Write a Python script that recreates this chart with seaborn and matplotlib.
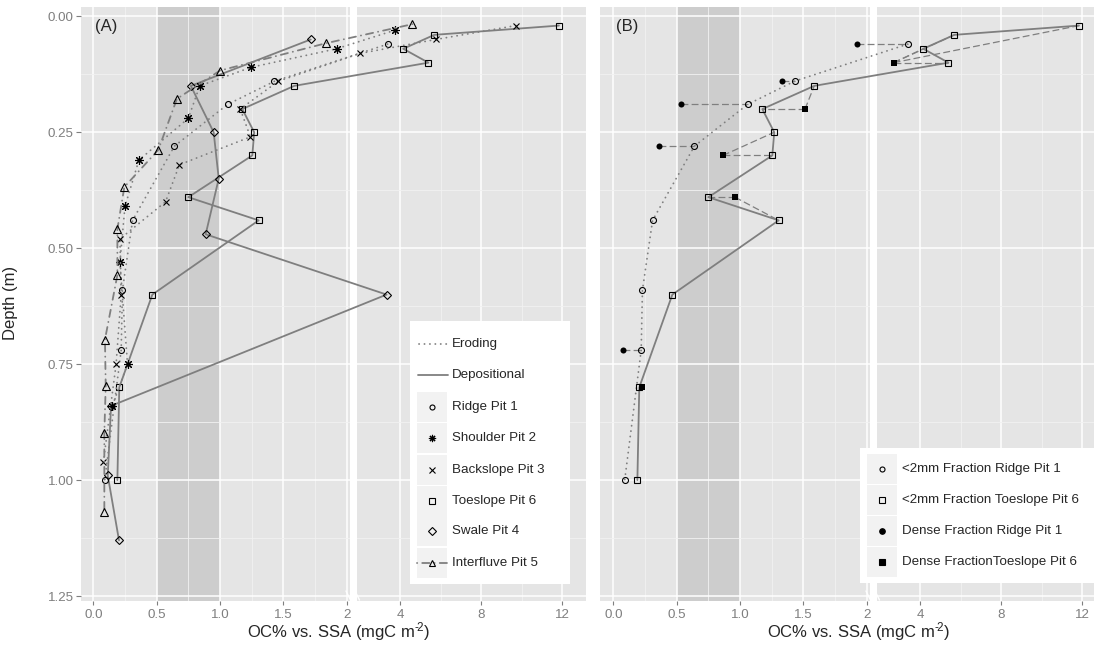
import numpy as np
import pandas as pd
import matplotlib
matplotlib.use("Agg")
import matplotlib.pyplot as plt
import seaborn as sns
from matplotlib.patches import Rectangle

# ---------------- data: organic carbon per unit surface area vs depth ----------------
ridge_depth = [0.06, 0.14, 0.19, 0.28, 0.44, 0.59, 0.72, 1.00]
ridge_oc = [3.39, 1.43, 1.06, 0.64, 0.31, 0.23, 0.22, 0.09]

shoulder_depth = [0.03, 0.07, 0.11, 0.15, 0.22, 0.31, 0.41, 0.53, 0.75, 0.84]
shoulder_oc = [3.75, 1.92, 1.245, 0.84, 0.75, 0.36, 0.25, 0.21, 0.27, 0.15]

backslope_depth = [0.02, 0.05, 0.08, 0.14, 0.20, 0.26, 0.32, 0.40, 0.48, 0.60, 0.75, 0.96]
backslope_oc = [9.71, 5.76, 2.03, 1.46, 1.16, 1.24, 0.68, 0.57, 0.21, 0.22, 0.18, 0.08]

toeslope_depth = [0.02, 0.04, 0.07, 0.10, 0.15, 0.20, 0.25, 0.30, 0.39, 0.44, 0.60, 0.80, 1.00]
toeslope_oc = [11.83, 5.69, 4.16, 5.40, 1.586, 1.176, 1.27, 1.255, 0.75, 1.305, 0.466, 0.205, 0.19]

swale_depth = [0.05, 0.15, 0.25, 0.35, 0.47, 0.60, 0.84, 0.99, 1.13]
swale_oc = [1.716, 0.77, 0.95, 0.99, 0.887, 3.34, 0.14, 0.114, 0.203]

interfluve_depth = [0.017, 0.058, 0.117, 0.178, 0.288, 0.368, 0.459, 0.558, 0.697, 0.797, 0.898, 1.069]
interfluve_oc = [4.61, 1.837, 1.0, 0.66, 0.513, 0.245, 0.19, 0.19, 0.092, 0.098, 0.087, 0.087]

# dense (heavy) fractions and the <2mm samples each one spans
dense_ridge_depth = [0.06, 0.14, 0.19, 0.28, 0.72]
dense_ridge_oc = [1.926, 1.329, 0.533, 0.36, 0.074]
dense_ridge_links = [[0], [1], [2], [3], [6]]

dense_toe_depth = [0.10, 0.20, 0.30, 0.39, 0.80]
dense_toe_oc = [2.70, 1.513, 0.865, 0.96, 0.224]
dense_toe_links = [[0, 1, 2, 3], [4, 5], [6, 7], [8, 9], [11]]

x_major = [0, 0.5, 1.0, 1.5, 2, 4, 8, 12]
x_major_labels = ["0.0", "0.5", "1.0", "1.5", "2", "4", "8", "12"]
x_minor = [0.25, 0.75, 1.25, 1.75, 6, 10]
y_major = [0.0, 0.25, 0.50, 0.75, 1.00, 1.25]
y_major_labels = ["0.00", "0.25", "0.50", "0.75", "1.00", "1.25"]
y_minor = [0.125, 0.375, 0.625, 0.875, 1.125]

# ---------------- style ----------------
sns.set_theme(style="darkgrid")
plt.rcParams["font.family"] = ["Liberation Sans", "DejaVu Sans"]
plt.rcParams["mathtext.default"] = "regular"

BG = "#E5E5E5"
BAND = "#CDCDCD"
GREY = "#7F7F7F"
MINOR = "#F2F2F2"

W, H = 1094, 649
fig = plt.figure(figsize=(W / 100, H / 100), dpi=100)
fig.patch.set_facecolor("white")

# broken x axis: linear 0-2, then a compressed linear segment above 2
X_BREAK = 2.026
U4 = 2.4207
K = 0.1602
U_GAP_END = 2.079


def fwd(x):
    x = np.asarray(x, dtype=float)
    return np.where(x <= X_BREAK, x, U4 + K * (x - 4.0))


def inv(u):
    u = np.asarray(u, dtype=float)
    hi = 4.0 + (u - U4) / K
    return np.where(u <= X_BREAK, u, np.maximum(hi, X_BREAK))


def px_axes(left, right, top=6.7, bottom=600.7):
    return fig.add_axes([left / W, 1 - bottom / H, (right - left) / W, (bottom - top) / H])


axA = px_axes(80.7, 586.0)
axB = px_axes(600.0, 1094.0)

DOT = (0.1, 2.9)
DOTDASH = (0.1, 2.8, 4.0, 2.8)
LW = 1.3


def profile(ax, oc, depth, marker, ms, dashes=None, mfc="none"):
    sns.lineplot(x=oc, y=depth, sort=False, estimator=None, ax=ax, color=GREY,
                 linewidth=LW, marker=marker, markersize=ms, markerfacecolor=mfc,
                 markeredgecolor="black", markeredgewidth=0.8, legend=False)
    line = ax.lines[-1]
    if dashes is not None:
        line.set_dashes(dashes)
    line.set_dash_capstyle("round")
    return line


ASTER = (8, 2, 0)

# ---- panel A ----
profile(axA, toeslope_oc, toeslope_depth, "s", 4.4)
profile(axA, swale_oc, swale_depth, "D", 4.3)
profile(axA, ridge_oc, ridge_depth, "o", 4.3, DOT)
profile(axA, shoulder_oc, shoulder_depth, ASTER, 6.4, DOT)
profile(axA, backslope_oc, backslope_depth, "x", 4.8, DOT)
profile(axA, interfluve_oc, interfluve_depth, "^", 5.6, DOTDASH)

# ---- panel B ----
link_rows = []
lid = 0
for i, idx in enumerate(dense_ridge_links):
    for j in idx:
        link_rows += [(lid, dense_ridge_oc[i], dense_ridge_depth[i]), (lid, ridge_oc[j], ridge_depth[j])]
        lid += 1
for i, idx in enumerate(dense_toe_links):
    for j in idx:
        link_rows += [(lid, dense_toe_oc[i], dense_toe_depth[i]), (lid, toeslope_oc[j], toeslope_depth[j])]
        lid += 1
links_df = pd.DataFrame(link_rows, columns=["link", "oc", "depth"])
sns.lineplot(data=links_df, x="oc", y="depth", units="link", estimator=None, sort=False,
             ax=axB, color=GREY, linewidth=0.9, legend=False)
for ln in axB.lines:
    ln.set_dashes((5.5, 2.6))

profile(axB, ridge_oc, ridge_depth, "o", 4.3, DOT)
profile(axB, toeslope_oc, toeslope_depth, "s", 4.4)
sns.scatterplot(x=dense_ridge_oc, y=dense_ridge_depth, ax=axB, color="black", marker="o",
                s=19, linewidth=0, legend=False, zorder=4)
sns.scatterplot(x=dense_toe_oc, y=dense_toe_depth, ax=axB, color="black", marker="s",
                s=19, linewidth=0, legend=False, zorder=4)

# ---- shared axis dressing ----
for ax, xlim, show_y in ((axA, (-0.0995, 13.165), True), (axB, (-0.105, 12.57), False)):
    ax.set_xscale("function", functions=(fwd, inv))
    ax.set_xlim(*xlim)
    ax.set_ylim(1.260, -0.0207)
    ax.set_facecolor(BG)
    ax.set_axisbelow(True)
    for s in ax.spines.values():
        s.set_visible(False)
    ax.axvspan(0.5, 1.0, color=BAND, lw=0, zorder=0.3)
    ax.set_xticks(x_major)
    ax.set_xticklabels(x_major_labels)
    ax.set_xticks(x_minor, minor=True)
    ax.set_yticks(y_major)
    ax.set_yticks(y_minor, minor=True)
    if show_y:
        ax.set_yticklabels(y_major_labels)
    else:
        ax.set_yticklabels([])
    ax.grid(which="major", color="white", linewidth=1.1)
    ax.grid(which="minor", color=MINOR, linewidth=0.6)
    ax.tick_params(which="major", axis="x", length=3.2, width=0.8, color=GREY,
                   labelcolor=GREY, labelsize=9.6, pad=2.6, bottom=True)
    ax.tick_params(which="major", axis="y", length=3.6 if show_y else 0, width=0.8,
                   color=GREY, labelcolor=GREY, labelsize=9.6, pad=1.5, left=show_y)
    ax.tick_params(which="minor", length=0)
    ax.set_xlabel("")
    ax.set_ylabel("")
    # white gap marking the axis break
    ulo, uhi = fwd(xlim[0]), fwd(xlim[1])
    f0 = (X_BREAK - ulo) / (uhi - ulo)
    f1 = (U_GAP_END - ulo) / (uhi - ulo)
    ax.add_patch(Rectangle((f0, 0), f1 - f0, 1, transform=ax.transAxes,
                           facecolor="white", edgecolor="none", zorder=0.6))

# ---------------- overlay in pixel coordinates: labels and legends ----------------
ov = fig.add_axes([0, 0, 1, 1], zorder=10)
ov.set_xlim(0, W)
ov.set_ylim(H, 0)
ov.axis("off")
ov.patch.set_alpha(0)

ov.text(95, 26.7, "(A)", fontsize=12, ha="left", va="center")
ov.text(616, 26.7, "(B)", fontsize=12, ha="left", va="center")
xtitle = "OC% vs. SSA (mgC m$^{\u2010\\!2}$)"
ov.text(338, 632, xtitle, fontsize=12, ha="center", va="center")
ov.text(858, 632, xtitle, fontsize=12, ha="center", va="center")
ov.text(11, 303, "Depth (m)", fontsize=12, ha="center", va="center", rotation=90)

# small break marks on the bottom edge
for off in (0, 520):
    for x0 in (346, 355):
        ov.plot([off + x0, off + x0 + 4.5], [591, 600], color="white", lw=1.0)


def key_box(x, y, w=30, h=30):
    ov.add_patch(Rectangle((x, y - h / 2), w, h, facecolor=MINOR, edgecolor="none"))


def key_marker(x, y, marker, ms, mfc="none"):
    ov.plot([x], [y], marker=marker, ms=ms, mfc=mfc, mec="black", mew=0.8, ls="none")


# legend A
ov.add_patch(Rectangle((410, 320.7), 160, 263.6, facecolor="white", edgecolor="none"))
ln, = ov.plot([419, 448], [344.3, 344.3], color=GREY, lw=LW)
ln.set_dashes(DOT)
ln.set_dash_capstyle("round")
ov.plot([418, 448], [375, 375], color=GREY, lw=LW)
ov.text(451.7, 344.3, "Eroding", fontsize=9.6, va="center", ha="left")
ov.text(451.7, 375, "Depositional", fontsize=9.6, va="center", ha="left")
legA = [("Ridge Pit 1", "o", 3.6), ("Shoulder Pit 2", ASTER, 5.2), ("Backslope Pit 3", "x", 4.2),
        ("Toeslope Pit 6", "s", 3.8), ("Swale Pit 4", "D", 3.8), ("Interfluve Pit 5", "^", 5.0)]
rowsA = [406.7, 438.3, 469.7, 500.9, 531.3, 563]
for (lab, mk, ms), y in zip(legA, rowsA):
    key_box(416.7, y)
    if lab.startswith("Interfluve"):
        l2, = ov.plot([417, 447], [y, y], color=GREY, lw=LW)
        l2.set_dashes(DOTDASH)
        l2.set_dash_capstyle("round")
    key_marker(431.7, y, mk, ms)
    ov.text(451.7, y, lab, fontsize=9.6, va="center", ha="left")

# legend B
ov.add_patch(Rectangle((860, 448.3), 234, 134.4, facecolor="white", edgecolor="none"))
legB = [("<2mm Fraction Ridge Pit 1", "o", 3.6, "none"),
        ("<2mm Fraction Toeslope Pit 6", "s", 3.8, "none"),
        ("Dense Fraction Ridge Pit 1", "o", 4.0, "black"),
        ("Dense FractionToeslope Pit 6", "s", 3.8, "black")]
rowsB = [469, 500, 531, 562.3]
for (lab, mk, ms, fc), y in zip(legB, rowsB):
    key_box(867, y, 30, 30)
    key_marker(882, y, mk, ms, fc)
    ov.text(901.7, y, lab, fontsize=9.6, va="center", ha="left")

fig.savefig("out.png", dpi=100, facecolor="white")
